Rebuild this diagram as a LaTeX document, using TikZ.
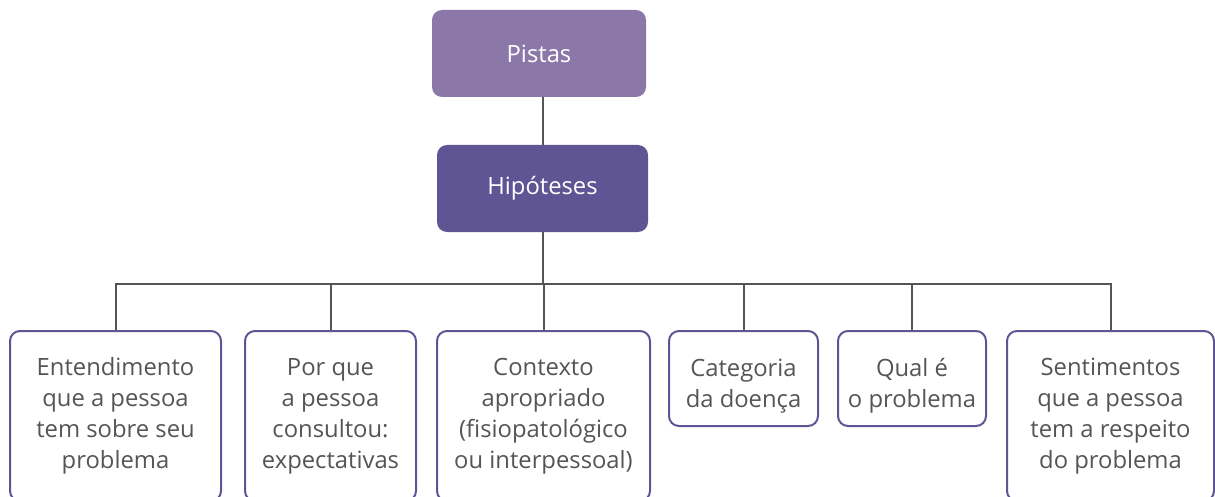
\documentclass[tikz,border=0pt]{standalone}
\usepackage{fontspec}
\setmainfont{Open Sans}
\usepackage{xcolor}
\definecolor{lila}{HTML}{8B77A8}
\definecolor{roxo}{HTML}{5F5494}
\definecolor{cinza}{HTML}{555555}
\newcommand{\lowstrut}{\rule{0pt}{32pt}}
\tikzset{
  VertexTop/.style={rectangle, rounded corners=10pt, text=white, minimum height=87pt, inner sep=0pt},
  VertexLow/.style={rectangle, rounded corners=10pt, draw=roxo, line width=2pt, fill=white,
    text=cinza, align=center, anchor=north, inner sep=0pt},
  VertexShort/.style={VertexLow, minimum height=95pt},
  EdgeStyle/.style={draw=cinza, line width=2pt}
}

\begin{document}
\begin{tikzpicture}[x=1pt, y=-1pt, font={\fontsize{23.8}{31}\selectfont}]
\useasboundingbox (0,0) rectangle (1215,497);
\clip (0,0) rectangle (1215,497);
\node[VertexTop, fill=lila, minimum width=214pt] (p) at (539,53.5) {Pistas};
\node[VertexTop, fill=roxo, minimum width=211pt] (h) at (542.5,188.5) {Hipóteses};
\node[VertexLow, minimum width=211pt, minimum height=170pt] (e) at (115.5,330)
  {Entendimento\\que a pessoa\\tem sobre seu\\problema};
\node[VertexLow, minimum width=171pt, minimum height=170pt] (pq) at (330.5,330)
  {Por que\\a pessoa\\consultou:\\expectativas};
\node[VertexLow, minimum width=213pt, minimum height=170pt] (c) at (543.5,330)
  {Contexto\\apropriado\\(fisiopatológico\\ou interpessoal)};
\node[VertexShort, minimum width=149pt] (cd) at (743.5,330)
  {\lowstrut Categoria\\da doença};
\node[VertexShort, minimum width=148pt] (q) at (912,330)
  {\lowstrut Qual é\\o problema};
\node[VertexLow, minimum width=207pt, minimum height=170pt] (s) at (1110.5,330)
  {Sentimentos\\que a pessoa\\tem a respeito\\do problema};
\draw[EdgeStyle] (p.south -| h.north) -- (h.north);
\draw[EdgeStyle] (h.south) -- ++(0,52) coordinate (bus);
\foreach \n in {e,pq,c,cd,q,s}
  \draw[EdgeStyle] (bus) -| (\n.north);
\end{tikzpicture}
\end{document}
